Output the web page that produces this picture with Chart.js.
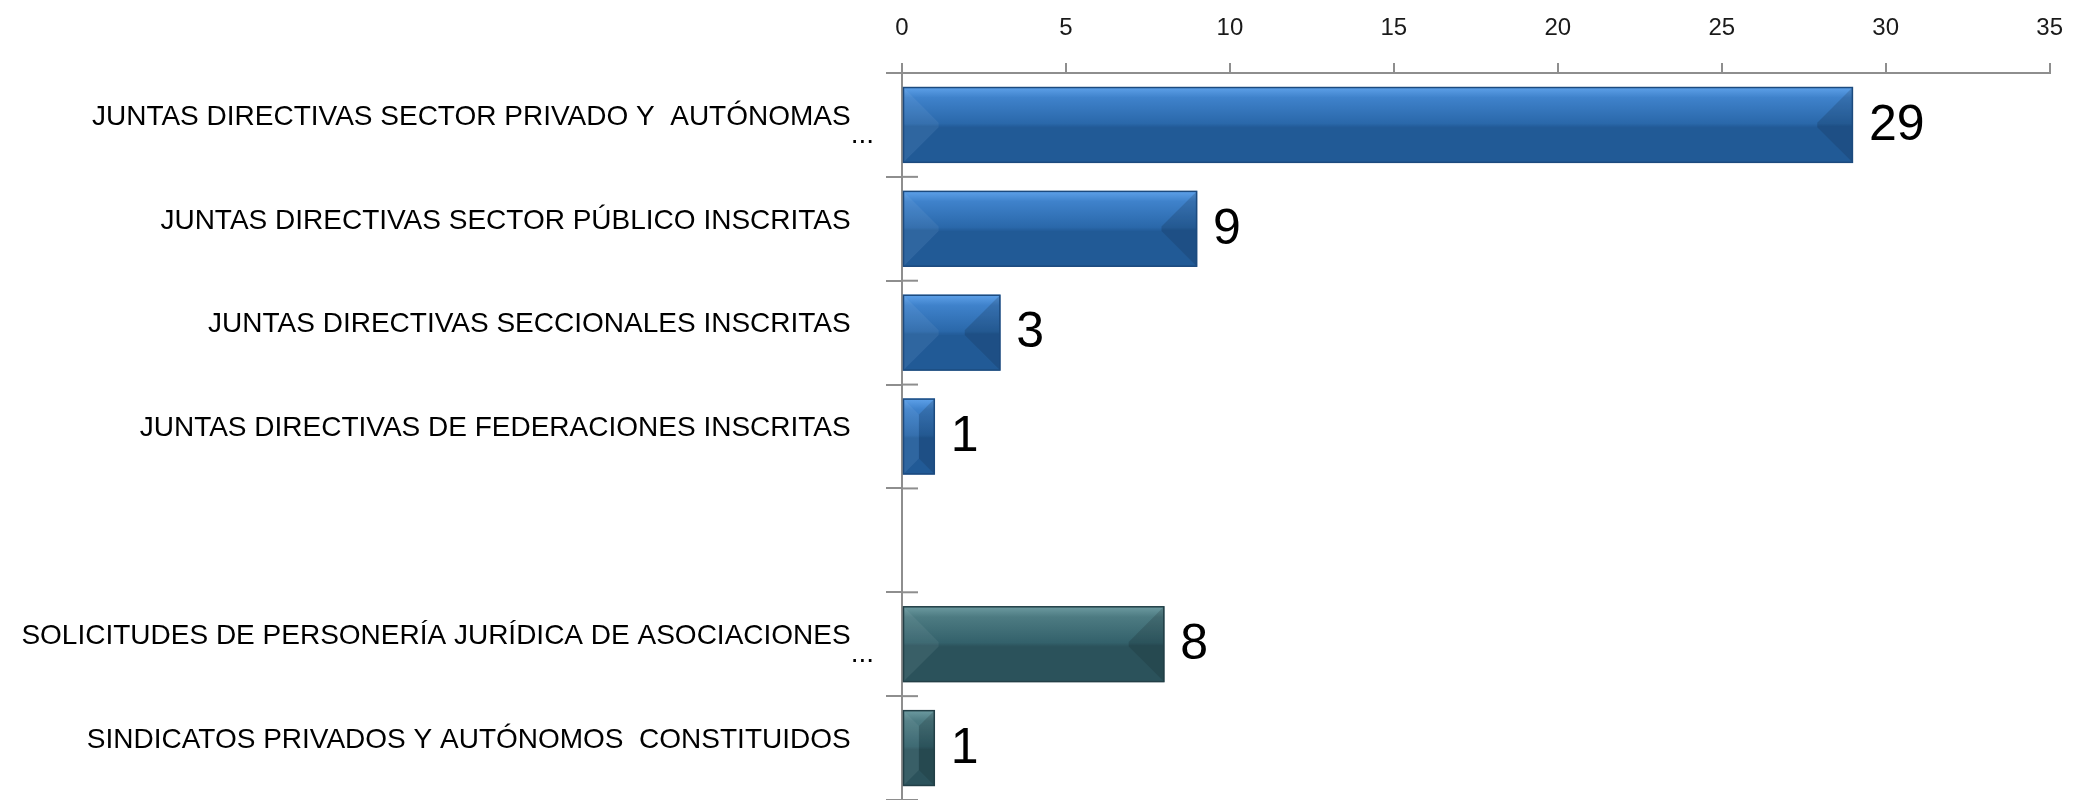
<!DOCTYPE html>
<html>
<head>
<meta charset="utf-8">
<script src="https://cdn.jsdelivr.net/npm/chart.js@4/dist/chart.umd.min.js"></script>
<style>
  html, body { margin: 0; padding: 0; background: #ffffff; }
  #wrap { width: 2083px; height: 800px; position: relative; }
</style>
</head>
<body>
<div id="wrap"><canvas id="chart"></canvas></div>
<script>
// categories, top to bottom (the blank one is the gap between the two groups)
const categories = [
    ['JUNTAS DIRECTIVAS SECTOR PRIVADO Y  AUTÓNOMAS', '...'],
    'JUNTAS DIRECTIVAS SECTOR PÚBLICO INSCRITAS',
    'JUNTAS DIRECTIVAS SECCIONALES INSCRITAS',
    'JUNTAS DIRECTIVAS DE FEDERACIONES INSCRITAS',
    '',
    ['SOLICITUDES DE PERSONERÍA JURÍDICA DE ASOCIACIONES', '...'],
    'SINDICATOS PRIVADOS Y AUTÓNOMOS  CONSTITUIDOS'
];
const values = [29, 9, 3, 1, null, 8, 1];
const groups = ['juntas', 'juntas', 'juntas', 'juntas', null, 'asoc', 'asoc'];

// value axis ticks
const axisMin = 0;
const axisMax = 35;
const axisStep = 5;

const FONT = '"Liberation Sans", Arial, sans-serif';
const AXIS_GREY = '#8e8e8e';
const BAR_PCT = 0.73;

// colours per group
const palette = {
    juntas: { top: '#5fa2ea', upper: '#3f82cb', mid: '#2a68aa', low: '#235d9b', border: '#1c4a7e' },
    asoc:   { top: '#6e9ca2', upper: '#4d7b82', mid: '#33616b', low: '#2d555e', border: '#223f46' }
};

function barFill(context) {
    const g = groups[context.dataIndex];
    if (!g) return 'rgba(0,0,0,0)';
    const c = palette[g];
    const yScale = context.chart.scales.y;
    if (!yScale) return c.mid;
    const yc = yScale.getPixelForValue(context.dataIndex);
    const h = (yScale.height / categories.length) * BAR_PCT;
    if (!isFinite(yc) || !isFinite(h) || h <= 0) return c.mid;
    const top = yc - h / 2;
    const grad = context.chart.ctx.createLinearGradient(0, top, 0, top + h);
    grad.addColorStop(0, c.top);
    grad.addColorStop(0.14, c.upper);
    grad.addColorStop(0.48, c.mid);
    grad.addColorStop(0.52, c.low);
    grad.addColorStop(1, c.low);
    return grad;
}

// bevel facets over each bar
const bevelPlugin = {
    id: 'bevel',
    afterDatasetsDraw(chart) {
        const ctx = chart.ctx;
        const meta = chart.getDatasetMeta(0);
        meta.data.forEach((bar, i) => {
            if (values[i] === null) return;
            const p = bar.getProps(['x', 'y', 'base', 'height'], true);
            const x0 = Math.min(p.base, p.x), x1 = Math.max(p.base, p.x);
            const y0 = p.y - p.height / 2, y1 = p.y + p.height / 2;
            const w = x1 - x0, h = y1 - y0;
            const dx = Math.min(h * 0.47, w / 2);
            const dy = Math.min(h / 2, dx);
            ctx.save();
            // left facet
            ctx.beginPath();
            ctx.moveTo(x0, y0); ctx.lineTo(x0 + dx, y0 + dy);
            ctx.lineTo(x0 + dx, y1 - dy); ctx.lineTo(x0, y1); ctx.closePath();
            ctx.fillStyle = 'rgba(255,255,255,0.06)';
            ctx.fill();
            // right facet
            ctx.beginPath();
            ctx.moveTo(x1, y0); ctx.lineTo(x1 - dx, y0 + dy);
            ctx.lineTo(x1 - dx, y1 - dy); ctx.lineTo(x1, y1); ctx.closePath();
            ctx.fillStyle = 'rgba(0,0,0,0.14)';
            ctx.fill();
            // bottom facet
            ctx.beginPath();
            ctx.moveTo(x0, y1); ctx.lineTo(x0 + dx, y1 - dy);
            ctx.lineTo(x1 - dx, y1 - dy); ctx.lineTo(x1, y1); ctx.closePath();
            ctx.fillStyle = 'rgba(0,0,0,0.03)';
            ctx.fill();
            // border
            ctx.strokeStyle = palette[groups[i]].border;
            ctx.lineWidth = 1.5;
            ctx.strokeRect(x0 + 0.5, y0 + 0.5, w - 1, h - 1);
            ctx.restore();
        });
    }
};

// value labels to the right of the bars
const valueLabelPlugin = {
    id: 'valueLabels',
    afterDatasetsDraw(chart) {
        const ctx = chart.ctx;
        const meta = chart.getDatasetMeta(0);
        ctx.save();
        ctx.font = '50px ' + FONT;
        ctx.fillStyle = '#000000';
        ctx.textAlign = 'left';
        ctx.textBaseline = 'middle';
        meta.data.forEach((bar, i) => {
            if (values[i] === null) return;
            ctx.fillText(String(values[i]), bar.x + 16, bar.y + 1);
        });
        ctx.restore();
    }
};

// category tick marks crossing the axis (inner half)
const crossTickPlugin = {
    id: 'crossTicks',
    afterDraw(chart) {
        const yScale = chart.scales.y;
        const ctx = chart.ctx;
        const left = yScale.right;
        ctx.save();
        ctx.strokeStyle = AXIS_GREY;
        ctx.lineWidth = 2;
        for (let i = 0; i <= categories.length; i++) {
            const yy = yScale.getPixelForValue(i - 0.5);
            ctx.beginPath();
            ctx.moveTo(left, yy);
            ctx.lineTo(left + 16, yy);
            ctx.stroke();
        }
        ctx.restore();
    }
};

new Chart(document.getElementById('chart'), {
    type: 'bar',
    data: {
        labels: categories,
        datasets: [{
            data: values,
            backgroundColor: barFill,
            borderWidth: 0,
            barPercentage: BAR_PCT,
            categoryPercentage: 1
        }]
    },
    options: {
        indexAxis: 'y',
        responsive: true,
        maintainAspectRatio: false,
        animation: false,
        layout: { padding: { top: 0, right: 20, bottom: 0, left: 0 } },
        plugins: {
            legend: { display: false },
            tooltip: { enabled: false }
        },
        scales: {
            x: {
                position: 'top',
                min: axisMin,
                max: axisMax,
                ticks: {
                    stepSize: axisStep,
                    color: '#1a1a1a',
                    padding: 20,
                    font: { family: FONT, size: 24 }
                },
                grid: {
                    drawOnChartArea: false,
                    drawTicks: true,
                    tickLength: 10,
                    color: AXIS_GREY,
                    lineWidth: 2
                },
                border: { display: true, color: AXIS_GREY, width: 2 },
                afterFit(scale) { scale.height = 73; }
            },
            y: {
                ticks: {
                    color: '#000000',
                    padding: 12,
                    autoSkip: false,
                    labelOffset: -8,
                    font: { family: FONT, size: 28, lineHeight: '18px' },
                    callback(value, index) {
                        const lab = categories[index];
                        // truncated labels: ellipsis tucked under the first line
                        if (Array.isArray(lab)) return ['', lab[0] + '   ', lab[1]];
                        return lab ? lab + '   ' : '';
                    }
                },
                grid: {
                    drawOnChartArea: false,
                    drawTicks: true,
                    tickLength: 16,
                    color: AXIS_GREY,
                    lineWidth: 2
                },
                border: { display: true, color: AXIS_GREY, width: 2 },
                afterFit(scale) {
                    scale.width = 902;
                    scale.paddingTop = 0;
                    scale.paddingBottom = 0;
                }
            }
        }
    },
    plugins: [bevelPlugin, valueLabelPlugin, crossTickPlugin]
});
</script>
</body>
</html>
